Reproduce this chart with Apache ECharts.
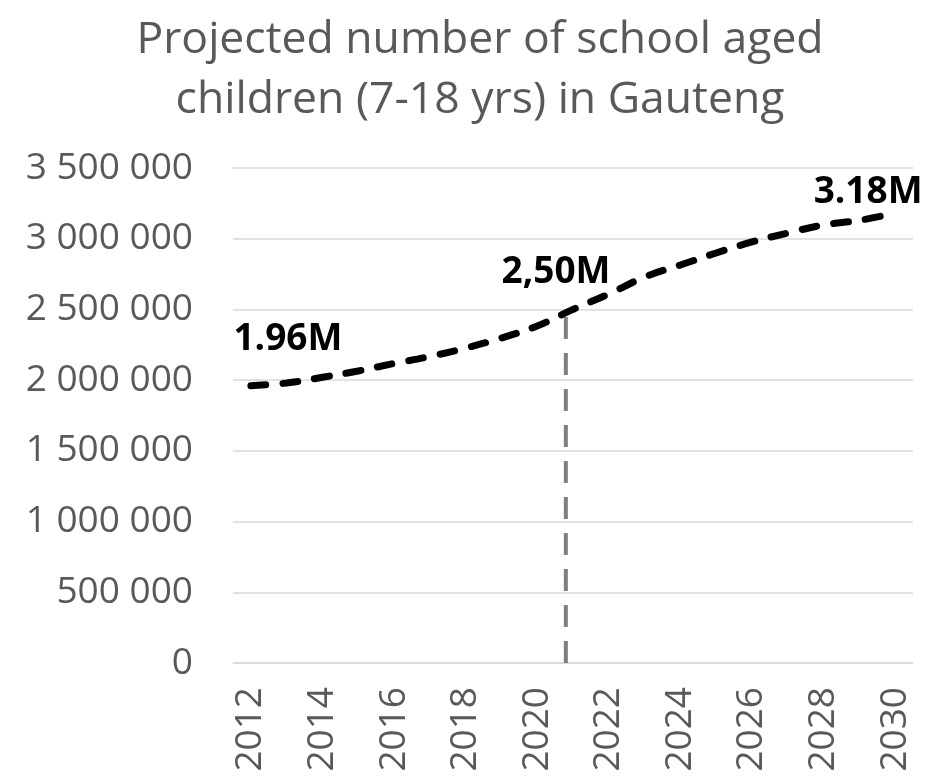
<!DOCTYPE html>
<html>
<head>
<meta charset="utf-8">
<script src="https://cdn.jsdelivr.net/npm/echarts@6/dist/echarts.min.js"></script>
<style>
  html, body { margin: 0; padding: 0; background: #fff; }
  #chart { width: 931px; height: 778px; }
</style>
</head>
<body>
<div id="chart"></div>
<script>
// data
const years = ['2012','2013','2014','2015','2016','2017','2018','2019','2020','2021',
               '2022','2023','2024','2025','2026','2027','2028','2029','2030']
const children = [1960000, 1980000, 2020000, 2065000, 2118000, 2167000, 2227000, 2298000, 2383000, 2500000,
                  2609000, 2729000, 2814000, 2899000, 2977000, 3040000, 3097000, 3130000, 3180000]
const pointLabels = { 0: '1.96M', 9: '2,50M', 18: '3.18M' }
const labelOffsets = { 0: [37, -22], 9: [-17, -13], 18: [-27, 3] }
const markerYear = 2020.8
const markerValue = 2470000

const grey = '#595959'
const font = "'Open Sans', 'Liberation Sans', sans-serif"

function spaced(v){
  return String(v).replace(/\B(?=(\d{3})+(?!\d))/g, ' ')
}

let seriesData = children.map((v, i) => {
  if (pointLabels[i] === undefined) return v
  return {
    value: v,
    symbol: 'circle',
    symbolSize: 1,
    itemStyle: { color: 'rgba(0,0,0,0)' },
    label: {
      show: true,
      position: 'top',
      offset: labelOffsets[i],
      formatter: pointLabels[i],
      color: '#000',
      fontWeight: 'bold',
      fontSize: 37,
      fontFamily: font
    }
  }
})

let myechart = echarts.init(document.getElementById('chart'))
let option = {
  animation: false,
  title: {
    text: 'Projected number of school aged\nchildren (7-18 yrs) in Gauteng',
    left: 475,
    textAlign: 'center',
    top: 5,
    textStyle: {
      color: grey,
      fontSize: 44.5,
      fontWeight: 'normal',
      fontFamily: font,
      lineHeight: 60
    }
  },
  grid: { left: 233, right: 18, top: 168, bottom: 115 },
  xAxis: [
    {
      type: 'category',
      data: years,
      boundaryGap: true,
      axisLine: { show: true, lineStyle: { color: '#d9d9d9', width: 1.5 } },
      axisTick: { show: false },
      axisLabel: {
        interval: 1,
        rotate: 90,
        margin: 24,
        color: grey,
        fontSize: 37,
        fontFamily: font
      }
    },
    {
      type: 'value',
      min: 2011.5,
      max: 2030.5,
      show: false
    }
  ],
  yAxis: {
    type: 'value',
    min: 0,
    max: 3500000,
    interval: 500000,
    axisLine: { show: false },
    axisTick: { show: false },
    splitLine: { lineStyle: { color: '#d9d9d9', width: 1.5 } },
    axisLabel: {
      margin: 40,
      color: grey,
      fontSize: 37,
      fontFamily: font,
      formatter: v => spaced(v)
    }
  },
  series: [
    {
      type: 'line',
      xAxisIndex: 1,
      data: [[markerYear, 0], [markerYear, markerValue]],
      symbol: 'none',
      lineStyle: { color: '#7f7f7f', width: 4, type: [22, 14] },
      z: 1
    },
    {
      type: 'line',
      data: seriesData,
      smooth: 0.4,
      showSymbol: true,
      symbol: 'none',
      lineStyle: { color: '#000', width: 7, type: [15, 17], cap: 'round' },
      z: 3
    }
  ]
}
option && myechart.setOption(option)
</script>
</body>
</html>
